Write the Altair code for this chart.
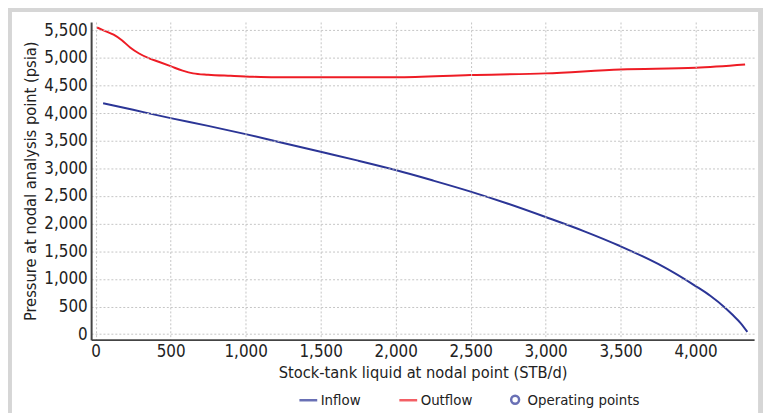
import altair as alt
import pandas as pd

# Inflow (IPR) curve
inflow_q = [50, 250, 500, 750, 1000, 1250, 1500, 1750, 2000, 2250, 2500, 2750,
            3000, 3250, 3500, 3750, 4000, 4100, 4200, 4250, 4300, 4345]
inflow_p = [4180, 4060, 3910, 3770, 3620, 3460, 3300, 3140, 2970, 2780, 2580, 2360,
            2120, 1870, 1590, 1270, 870, 690, 470, 340, 200, 40]

# Outflow (VLP) curve
outflow_q = [10, 60, 120, 175, 230, 290, 350, 420, 500, 580, 650, 750, 900, 1050,
             1200, 1500, 2000, 2500, 3000, 3500, 4000, 4330]
outflow_p = [5550, 5490, 5420, 5320, 5190, 5080, 5000, 4930, 4850, 4770, 4720, 4695,
             4675, 4658, 4650, 4650, 4650, 4690, 4720, 4790, 4820, 4880]

series_names = ["Inflow", "Outflow", "Operating points"]
series_colors = ["#2b3596", "#ee1c25", "#2b3596"]
series_shapes = ["M-2.25,0H2.25", "M-2.25,0H2.25", "circle"]

x_ticks = [0, 500, 1000, 1500, 2000, 2500, 3000, 3500, 4000]
y_ticks = [0, 500, 1000, 1500, 2000, 2500, 3000, 3500, 4000, 4500, 5000, 5500]

FONT = "DejaVu Sans Condensed, Liberation Sans Narrow, Liberation Sans, sans-serif"

df = pd.concat([
    pd.DataFrame({"q": inflow_q, "p": inflow_p, "series": "Inflow", "order": range(len(inflow_q))}),
    pd.DataFrame({"q": outflow_q, "p": outflow_p, "series": "Outflow", "order": range(len(outflow_q))}),
])

color_scale = alt.Scale(domain=series_names, range=series_colors)
shape_scale = alt.Scale(domain=series_names, range=series_shapes)
legend = alt.Legend(title=None, orient="none", legendX=212, legendY=374,
                    direction="horizontal", columnPadding=33, labelFont=FONT,
                    labelFontSize=15, labelColor="#222222", symbolStrokeWidth=2.5,
                    symbolSize=64, labelOffset=5, zindex=1)

xs = alt.Scale(domain=[-30, 4390], nice=False, zero=False)
ys = alt.Scale(domain=[-100, 5650], nice=False, zero=False)

x_axis = alt.Axis(title="Stock-tank liquid at nodal point (STB/d)", values=x_ticks,
                  format=",d", labelPadding=4, titlePadding=5, zindex=1,
                  labelOverlap=False)
y_axis = alt.Axis(title="Pressure at nodal analysis point (psia)", values=y_ticks,
                  format=",d", labelPadding=4, titlePadding=5, zindex=1,
                  labelOverlap=False)

bg = alt.Chart(pd.DataFrame({"a": [0]})).mark_rect(color="white").encode(
    x=alt.value(-80), x2=alt.value(674), y=alt.value(-10), y2=alt.value(420)
)

lines = alt.Chart(df).mark_line(strokeWidth=2, interpolate="monotone").encode(
    x=alt.X("q:Q", scale=xs, axis=x_axis),
    y=alt.Y("p:Q", scale=ys, axis=y_axis),
    color=alt.Color("series:N", scale=color_scale, legend=legend),
    order="order:Q",
)

points = alt.Chart(alt.Data(values=[])).mark_point(filled=False, strokeWidth=2.5, size=64).encode(
    x=alt.X("q:Q", scale=xs, axis=x_axis),
    y=alt.Y("p:Q", scale=ys, axis=y_axis),
    color=alt.Color("series:N", scale=color_scale, legend=legend),
    shape=alt.Shape("series:N", scale=shape_scale, legend=legend),
)

chart = alt.layer(bg, lines, points).properties(
    width=670, height=321,
    autosize="none",
    padding={"left": 84, "top": 12, "right": 9, "bottom": 72},
    background="#d6d6d6",
).configure_view(
    stroke="#555555", strokeWidth=1.5
).configure_axis(
    labelFont=FONT, titleFont=FONT, labelFontSize=17, titleFontSize=16.5,
    titleFontWeight="normal", labelColor="#222222", titleColor="#222222",
    ticks=False, domainColor="#444444", domainWidth=2,
    gridColor="#c4c4c4", gridDash=[2, 2], gridWidth=1,
)

chart.save("out.html", embed_options={"renderer": "svg", "actions": False})
